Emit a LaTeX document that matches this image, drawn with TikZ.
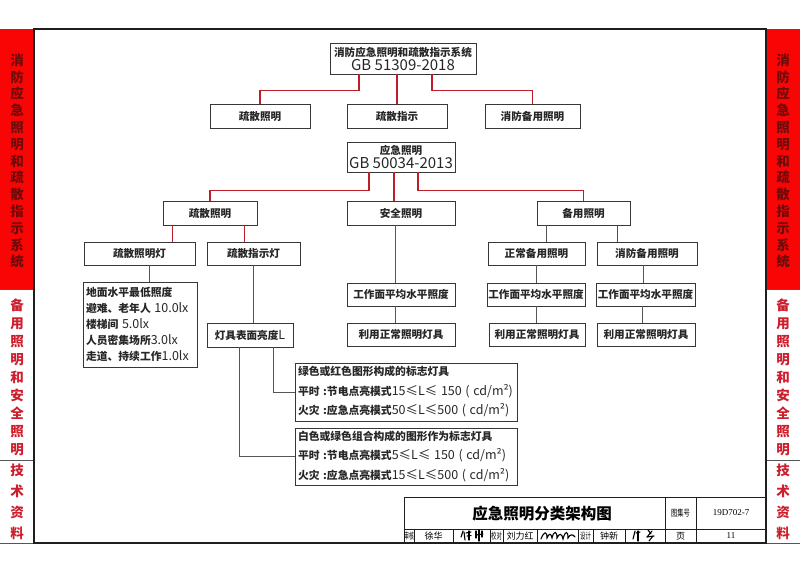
\documentclass[tikz,border=0pt]{standalone}
\usepackage{fontspec}
\setmainfont{Noto Sans CJK SC}
\newfontfamily\serifl{Liberation Serif}
\usetikzlibrary{calc}
\definecolor{sidered}{RGB}{250,5,5}
\definecolor{darkred}{RGB}{110,10,10}
\definecolor{txtred}{RGB}{205,30,45}
\definecolor{linered}{RGB}{190,30,40}
\definecolor{linegray}{RGB}{85,85,85}
\definecolor{boxc}{RGB}{55,55,55}
\definecolor{framec}{RGB}{30,30,30}
\newcommand{\latx}[1]{{\mdseries\fontsize{12.5}{16}\selectfont #1}}
\tikzset{
  bx/.style={draw=boxc, line width=0.9pt, inner sep=0pt, align=center, font=\bfseries\fontsize{10.6}{14}\selectfont, text=black!85},
  lbx/.style={draw=boxc, line width=0.9pt, inner ysep=0pt, inner xsep=3pt, align=left, text=black!85},
  rl/.style={draw=linered, line width=1.1pt},
  gl/.style={draw=linegray, line width=0.9pt},
  fr/.style={draw=framec},
  sidetxt/.style={align=center, inner sep=0pt, font=\bfseries\fontsize{13.5}{16.8}\selectfont},
  tb/.style={inner sep=0pt, font=\fontsize{9}{10}\selectfont},
}
\begin{document}
\begin{tikzpicture}[x=1pt,y=-1pt]
\useasboundingbox (0,0) rectangle (800,573);
% side bars
\fill[sidered] (0,29) rectangle (34,289);
\fill[sidered] (766,29) rectangle (800,289);
\foreach \yy in {289,460,543}{
  \draw[linegray, line width=0.9pt] (0,\yy) -- (34,\yy);
  \draw[linegray, line width=0.9pt] (766,\yy) -- (800,\yy);
}
\node[sidetxt, text=darkred] (lsa) at (17,161) {消\\防\\应\\急\\照\\明\\和\\疏\\散\\指\\示\\系\\统};
\node[sidetxt, text=darkred] (rsa) at (783,161) {消\\防\\应\\急\\照\\明\\和\\疏\\散\\指\\示\\系\\统};
\node[sidetxt, text=txtred, font=\bfseries\fontsize{13.5}{18}\selectfont] (lsb) at (17,377) {备\\用\\照\\明\\和\\安\\全\\照\\明};
\node[sidetxt, text=txtred, font=\bfseries\fontsize{13.5}{18}\selectfont] (rsb) at (783,377) {备\\用\\照\\明\\和\\安\\全\\照\\明};
\node[sidetxt, text=txtred, font=\bfseries\fontsize{13.5}{21}\selectfont] (lsc) at (17,501.5) {技\\术\\资\\料};
\node[sidetxt, text=txtred, font=\bfseries\fontsize{13.5}{21}\selectfont] (rsc) at (783,501.5) {技\\术\\资\\料};
% frame
\draw[fr, line width=1.8pt] (33,29) -- (767,29);
\draw[fr, line width=1.3pt] (34,29) -- (34,543);
\draw[fr, line width=1.3pt] (766,29) -- (766,543);
\draw[fr, line width=2pt] (33,543) -- (767,543);
% boxes
\node[bx, minimum width=146pt, minimum height=31pt] (top) at (403,58.5) {消防应急照明和疏散指示系统\\{\mdseries\fontsize{15}{14}\selectfont GB 51309-2018}};
\node[bx, minimum width=100pt, minimum height=24pt] (s1) at (260,116) {疏散照明};
\node[bx, minimum width=100pt, minimum height=24pt] (s2) at (397,116) {疏散指示};
\node[bx, minimum width=95pt, minimum height=24pt] (s3) at (532.5,116) {消防备用照明};
\node[bx, minimum width=108pt, minimum height=30pt] (yj) at (401,157) {应急照明\\{\mdseries\fontsize{15}{14}\selectfont GB 50034-2013}};
\node[bx, minimum width=94pt, minimum height=24pt] (a1) at (210,213) {疏散照明};
\node[bx, minimum width=108pt, minimum height=24pt] (a2) at (401,213) {安全照明};
\node[bx, minimum width=93pt, minimum height=24pt] (a3) at (583.5,213) {备用照明};
\node[bx, minimum width=111pt, minimum height=23pt] (b1) at (139.5,253.5) {疏散照明灯};
\node[bx, minimum width=93pt, minimum height=23pt] (b2) at (253.5,253.5) {疏散指示灯};
\node[bx, minimum width=97pt, minimum height=23pt] (b3) at (536.5,253.5) {正常备用照明};
\node[bx, minimum width=100pt, minimum height=23pt] (b4) at (647,253.5) {消防备用照明};
\node[lbx, text width=108pt, minimum height=85pt, font=\bfseries\fontsize{10.8}{16}\selectfont] (c1) at (140,324.5) {地面水平最低照度\\避难、老年人 \latx{10.0lx}\\楼梯间 \latx{5.0lx}\\人员密集场所\latx{3.0lx}\\走道、持续工作\latx{1.0lx}};
\node[bx, minimum width=108pt, minimum height=23pt] (c2) at (401,294.5) {工作面平均水平照度};
\node[bx, minimum width=98pt, minimum height=23pt] (c3) at (536,294.5) {工作面平均水平照度};
\node[bx, minimum width=99pt, minimum height=23pt] (c4) at (645.5,294.5) {工作面平均水平照度};
\node[bx, minimum width=86pt, minimum height=24pt] (d1) at (250,335) {灯具表面亮度\latx{L}};
\node[bx, minimum width=108pt, minimum height=23pt] (d2) at (401,334.5) {利用正常照明灯具};
\node[bx, minimum width=96pt, minimum height=23pt] (d3) at (537,334.5) {利用正常照明灯具};
\node[bx, minimum width=98pt, minimum height=23pt] (d4) at (646,334.5) {利用正常照明灯具};
\node[lbx, text width=216pt, minimum height=58pt, font=\bfseries\fontsize{10.8}{19.5}\selectfont] (e1) at (406,392) {绿色或红色图形构成的标志灯具\\平时 :节电点亮模式\latx{15≤L≤ 150 ( cd/m²)}\\火灾 :应急点亮模式\latx{50≤L≤500 ( cd/m²)}};
\node[lbx, text width=216pt, minimum height=57pt, font=\bfseries\fontsize{10.8}{19.5}\selectfont] (e2) at (406,456.5) {白色或绿色组合构成的图形作为标志灯具\\平时 :节电点亮模式\latx{5≤L≤ 150 ( cd/m²)}\\火灾 :应急点亮模式\latx{15≤L≤500 ( cd/m²)}};
% connectors
\draw[rl] ([xshift=-44pt]top.south) -- ++(0,16) -| (s1.north);
\draw[rl] (top.south -| s2.north) -- (s2.north);
\draw[rl] ([xshift=29pt]top.south) -- ++(0,16) -| (s3.north);
\draw[rl] ([xshift=-32pt]yj.south) -- ++(0,18) -| (a1.north);
\draw[rl] ([xshift=-7pt]yj.south) -- ([xshift=-7pt]a2.north);
\draw[rl] ([xshift=17pt]yj.south) -- ++(0,18) -| (a3.north);
\draw[rl] ([xshift=10pt]a1.south west) -- ([xshift=10pt]a1.south west |- b1.north);
\draw[rl] ([xshift=-13pt]a1.south east) -- ([xshift=-13pt]a1.south east |- b2.north);
\draw[gl] ([xshift=10pt]a3.south west) -- ([xshift=10pt]a3.south west |- b3.north);
\draw[rl] ([xshift=-13pt]a3.south east) -- ([xshift=-13pt]a3.south east |- b4.north);
\draw[gl] ([xshift=10pt]b1.south) -- ([xshift=10pt]b1.south |- c1.north);
\draw[gl] (b2.south) -- (b2.south |- d1.north);
\draw[gl] ([xshift=-6pt]a2.south) -- ([xshift=-6pt]a2.south |- c2.north);
\draw[gl] ([xshift=-6pt]c2.south) -- ([xshift=-6pt]c2.south |- d2.north);
\draw[gl] (b3.south) -- (b3.south |- c3.north);
\draw[gl] (c3.south) -- (c3.south |- d3.north);
\draw[gl] ([xshift=-4pt]b4.south) -- ([xshift=-4pt]b4.south |- c4.north);
\draw[gl] ([xshift=-3pt]c4.south) -- ([xshift=-3pt]c4.south |- d4.north);
\draw[gl] ([xshift=23pt]d1.south) |- (e1.west);
\draw[gl] ([xshift=-11pt]d1.south) |- (e2.west);
% title block
\draw[fr, line width=1pt] (404,497) rectangle (766,543);
\draw[fr, line width=0.8pt] (404,529) -- (766,529);
\draw[fr, line width=0.8pt] (665,497) -- (665,543);
\draw[fr, line width=0.8pt] (696,497) -- (696,543);
\foreach \xx in {414,453,490,503,537,578,593,625}{
  \draw[fr, line width=0.8pt] (\xx,529) -- (\xx,543);
}
\node[inner sep=0pt, font=\bfseries\fontsize{15.5}{18}\selectfont] (ttl) at (542,514) {应急照明分类架构图};
\node[tb] (tjh) at (680.5,513) {\scalebox{0.7}[1]{图集号}};
\node[tb, font=\serifl\fontsize{9}{10}\selectfont] (tjn) at (731,513) {19D702-7};
\node[tb] (sh) at (409,536) {\scalebox{0.55}[1]{审核}};
\node[tb] (shn) at (433.5,536) {徐华};
\node[tb] (jd) at (496.5,536) {\scalebox{0.6}[1]{校对}};
\node[tb] (jdn) at (520,536) {刘力红};
\node[tb] (sj) at (585.5,536) {\scalebox{0.6}[1]{设计}};
\node[tb] (sjn) at (609,536) {钟新};
\node[tb] (ye) at (680.5,536) {页};
\node[tb, font=\serifl\fontsize{9}{10}\selectfont] (yen) at (731,536) {11};
% signatures (handwriting)
\begin{scope}[line width=1.1pt, line cap=round, draw=black]
  \draw (463,531) -- (461,537);
  \draw (464,532) -- (465,540);
  \draw (466,533) -- (471,532);
  \draw (467,536) -- (471,535.5);
  \draw (469,531) -- (469,540);
  \draw (476,531) -- (476,538);
  \draw (479,530) -- (479,541);
  \draw (482,531) -- (482,537);
  \draw (476,535) -- (483,534);
  \draw (541,539) .. controls (544,531) and (547,531) .. (547,538)
        .. controls (549,533) and (551,533) .. (552,538)
        .. controls (554,530) and (557,531) .. (557,538)
        .. controls (559,533) and (562,533) .. (563,539)
        .. controls (565,531) and (568,530) .. (568,538)
        .. controls (570,534) and (573,534) .. (575,537);
  \draw (635,531) -- (633,539);
  \draw (636,533) -- (640,532);
  \draw (638,531) -- (638,541);
  \draw (648,530) -- (651,534);
  \draw (652,531) -- (647,537);
  \draw (647,537) -- (654,536);
  \draw (653,536) -- (649,541);
\end{scope}
\end{tikzpicture}
\end{document}
